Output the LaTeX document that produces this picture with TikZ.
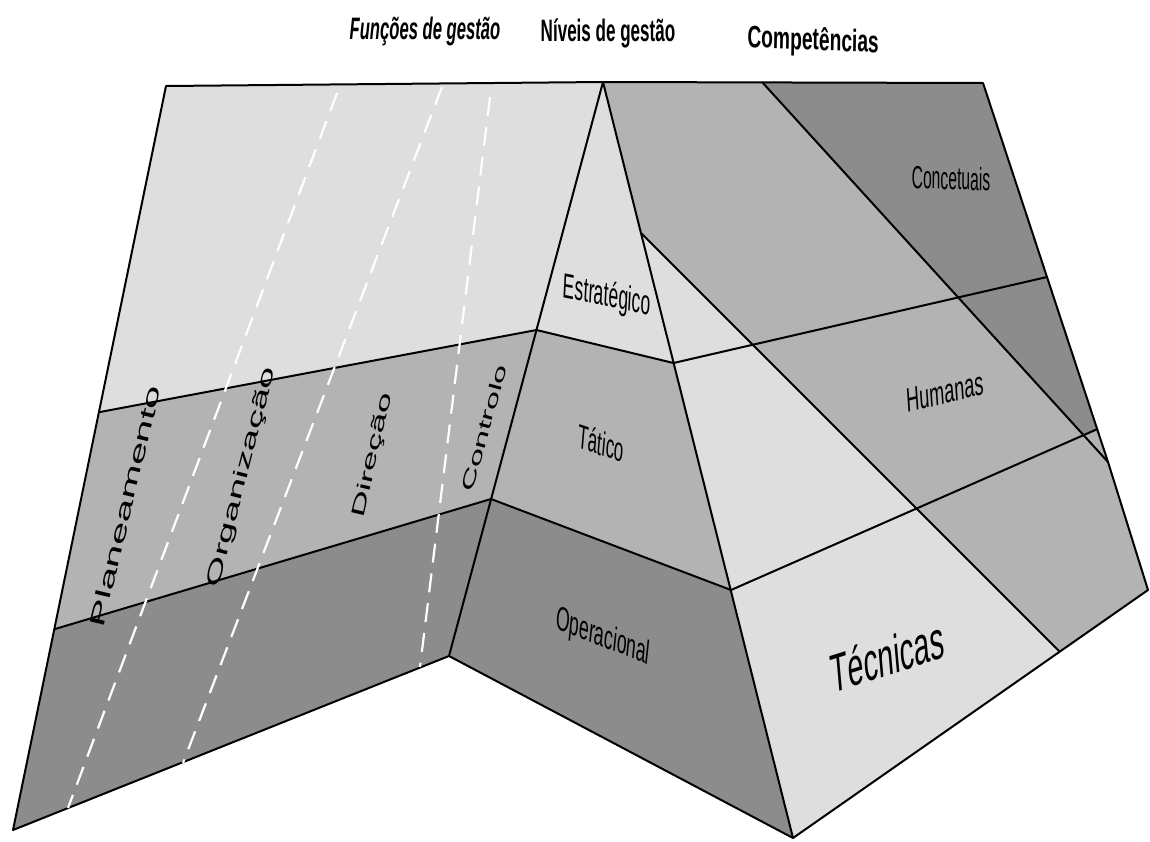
\documentclass[tikz,border=0pt]{standalone}
\usepackage{fontspec}
\setsansfont{Liberation Sans}
\definecolor{lightg}{HTML}{DEDEDE}
\definecolor{midg}{HTML}{B3B3B3}
\definecolor{darkg}{HTML}{8C8C8C}
\begin{document}
\begin{tikzpicture}[x=0.5pt,y=-0.5pt,line join=round,
  edge/.style={draw=black,line width=1pt},
  fdash/.style={draw=white,line width=1.1pt,dash pattern=on 9.5pt off 5.5pt},
  sq/.style={transform shape,inner sep=0pt,text=black}]
\useasboundingbox (0,0) rectangle (1150,841);
% coordinates
\coordinate (TL) at (166,86);
\coordinate (BL) at (13,830);
\coordinate (PB) at (449,656);
\coordinate (AP) at (603,82);
\coordinate (PR) at (793,838);
\coordinate (L1) at (100,412);
\coordinate (P1) at (536.5,330);
\coordinate (L2) at (55,629);
\coordinate (P2) at (491,499);
\coordinate (Q1) at (673.5,363);
\coordinate (Q2) at (731,590);
\coordinate (A0) at (762,82);
\coordinate (RT) at (983,83);
\coordinate (RE1) at (1047,277);
\coordinate (RE2) at (1097.5,429);
\coordinate (AE) at (1108,462);
\coordinate (RBR) at (1148,590);
\coordinate (B1) at (641,233);
\coordinate (B2) at (1060,652);
\coordinate (AH2) at (1083.7,435.3);
\coordinate (D1a) at (337,93);
\coordinate (D1b) at (68,808);
\coordinate (D2a) at (442,87);
\coordinate (D2b) at (183,763);
\coordinate (D3a) at (490,97);
\coordinate (D3b) at (420,667);
% left panel
\fill[lightg] (TL) -- (AP) -- (P1) -- (L1) -- cycle;
\fill[midg] (L1) -- (P1) -- (P2) -- (L2) -- cycle;
\fill[darkg] (L2) -- (P2) -- (PB) -- (BL) -- cycle;
% pyramid front
\fill[lightg] (AP) -- (Q1) -- (P1) -- cycle;
\fill[midg] (P1) -- (Q1) -- (Q2) -- (P2) -- cycle;
\fill[darkg] (P2) -- (Q2) -- (PR) -- (PB) -- cycle;
% right panel
\fill[midg] (AP) -- (RT) -- (AE) -- (RBR) -- (PR) -- cycle;
\fill[lightg] (B1) -- (B2) -- (PR) -- cycle;
\fill[darkg] (A0) -- (RT) -- (RE2) -- (AH2) -- cycle;
% edges
\draw[edge] (TL) -- (AP) -- (RT) -- (AE) -- (RBR) -- (PR) -- (PB) -- (BL) -- cycle;
\draw[edge] (AP) -- (PB);
\draw[edge] (AP) -- (PR);
\draw[edge] (L1) -- (P1) -- (Q1) -- (RE1);
\draw[edge] (L2) -- (P2) -- (Q2) -- (RE2);
\draw[edge] (A0) -- (AE);
\draw[edge] (B1) -- (B2);
% dashed function separators
\draw[fdash] (D1a) -- (D1b);
\draw[fdash] (D2a) -- (D2b);
\draw[fdash] (D3a) -- (D3b);
% titles
\node[sq,anchor=base,xscale=0.537,font=\sffamily\bfseries\itshape\fontsize{15.5}{18}\selectfont] (t1) at (425,39) {Funções de gestão};
\node[sq,anchor=base,xscale=0.55,font=\sffamily\bfseries\fontsize{15.5}{18}\selectfont] (t2) at (608,41) {Níveis de gestão};
\node[sq,anchor=base,xscale=0.62,rotate=-1.5,font=\sffamily\bfseries\fontsize{15.5}{18}\selectfont] (t3) at (813,50) {Competências};
% pyramid labels
\node[sq,xscale=0.5,rotate=-5.8,font=\sffamily\fontsize{17.5}{21}\selectfont] (n1) at (607,297) {Estratégico};
\node[sq,xscale=0.5,rotate=-9.6,font=\sffamily\fontsize{17}{20}\selectfont] (n2) at (601,443) {Tático};
\node[sq,xscale=0.52,rotate=-11.3,font=\sffamily\fontsize{17}{20}\selectfont] (n3) at (603,638) {Operacional};
% competence labels
\node[sq,xscale=0.49,rotate=-1,font=\sffamily\fontsize{16}{19}\selectfont] (c1) at (951,178) {Concetuais};
\node[sq,xscale=0.53,rotate=7.5,font=\sffamily\fontsize{17}{20}\selectfont] (c2) at (945,392) {Humanas};
\node[sq,xscale=0.53,rotate=9.5,font=\sffamily\fontsize{27}{32}\selectfont] (c3) at (887,656) {Técnicas};
% function labels
\node[sq,rotate=76.5,yscale=0.5,font=\sffamily\fontsize{21}{25}\selectfont] (f1) at (125,506) {Planeamento};
\node[sq,rotate=75.5,yscale=0.5,font=\sffamily\fontsize{20}{24}\selectfont] (f2) at (242,477) {Organização};
\node[sq,rotate=76.9,yscale=0.5,font=\sffamily\fontsize{18.5}{22}\selectfont] (f3) at (373,455) {Direção};
\node[sq,rotate=74.7,yscale=0.5,font=\sffamily\fontsize{17.3}{21}\selectfont] (f4) at (484,428) {Controlo};
\end{tikzpicture}
\end{document}
